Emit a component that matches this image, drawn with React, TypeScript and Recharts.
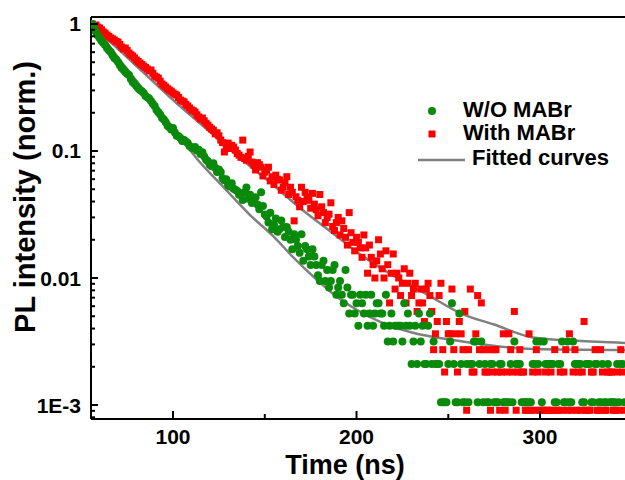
import React from "react";
import {
  ComposedChart,
  Scatter,
  Line,
  XAxis,
  YAxis,
  ReferenceLine,
  Legend,
} from "recharts";

// sampling times (ns), 1 ns bins
const times = [
  56, 57, 58, 59, 60, 61, 62, 63, 64, 65,
  66, 67, 68, 69, 70, 71, 72, 73, 74, 75,
  76, 77, 78, 79, 80, 81, 82, 83, 84, 85,
  86, 87, 88, 89, 90, 91, 92, 93, 94, 95,
  96, 97, 98, 99, 100, 101, 102, 103, 104, 105,
  106, 107, 108, 109, 110, 111, 112, 113, 114, 115,
  116, 117, 118, 119, 120, 121, 122, 123, 124, 125,
  126, 127, 128, 129, 130, 131, 132, 133, 134, 135,
  136, 137, 138, 139, 140, 141, 142, 143, 144, 145,
  146, 147, 148, 149, 150, 151, 152, 153, 154, 155,
  156, 157, 158, 159, 160, 161, 162, 163, 164, 165,
  166, 167, 168, 169, 170, 171, 172, 173, 174, 175,
  176, 177, 178, 179, 180, 181, 182, 183, 184, 185,
  186, 187, 188, 189, 190, 191, 192, 193, 194, 195,
  196, 197, 198, 199, 200, 201, 202, 203, 204, 205,
  206, 207, 208, 209, 210, 211, 212, 213, 214, 215,
  216, 217, 218, 219, 220, 221, 222, 223, 224, 225,
  226, 227, 228, 229, 230, 231, 232, 233, 234, 235,
  236, 237, 238, 239, 240, 241, 242, 243, 244, 245,
  246, 247, 248, 249, 250, 251, 252, 253, 254, 255,
  256, 257, 258, 259, 260, 261, 262, 263, 264, 265,
  266, 267, 268, 269, 270, 271, 272, 273, 274, 275,
  276, 277, 278, 279, 280, 281, 282, 283, 284, 285,
  286, 287, 288, 289, 290, 291, 292, 293, 294, 295,
  296, 297, 298, 299, 300, 301, 302, 303, 304, 305,
  306, 307, 308, 309, 310, 311, 312, 313, 314, 315,
  316, 317, 318, 319, 320, 321, 322, 323, 324, 325,
  326, 327, 328, 329, 330, 331, 332, 333, 334, 335,
  336, 337, 338, 339, 340, 341, 342, 343, 344, 345,
  346,
];

// photon counts, W/O MABr
const GREEN_PEAK = 950;
const greenCounts = [
  950, 880, 822, 770, 737, 700, 673, 650, 614, 590,
  572, 540, 513, 500, 477, 450, 428, 415, 398, 385,
  377, 350, 332, 322, 309, 296, 287, 280, 272, 258,
  252, 246, 235, 224, 215, 200, 192, 184, 173, 168,
  160, 150, 146, 140, 144, 133, 125, 124, 120, 114,
  116, 113, 110, 104, 101, 100, 102, 96, 97, 90,
  93, 86, 81, 79, 74, 72, 76, 70, 65, 68,
  65, 58, 56, 57, 51, 50, 53, 48, 47, 46,
  43, 44, 39, 45, 49, 40, 43, 37, 39, 41,
  36, 33, 45, 35, 30, 29, 26, 31, 23, 25,
  28, 22, 23, 27, 24, 20, 24, 22, 19, 16,
  21, 19, 17, 15, 21, 13, 17, 16, 14, 12,
  16, 14, 12, 10, 9, 12, 13, 9, 11, 8,
  9, 11, 12, 7, 8, 9, 7, 6, 11, 8,
  5, 7, 7, 5, 6, 4, 7, 6, 5, 7,
  4, 5, 7, 4, 5, 6, 6, 5, 5, 4,
  7, 3, 4, 5, 3, 4, 4, 4, 4, 3,
  6, 4, 5, 4, 2, 3, 4, 2, 5, 3,
  4, 2, 2, 4, 5, 2, 3, 2, 2, 2,
  1, 1, 1, 1, 2, 3, 6, 2, 1, 1,
  5, 2, 1, 1, 2, 1, 2, 2, 3, 3,
  1, 2, 3, 1, 2, 1, 1, 2, 2, 1,
  1, 1, 2, 2, 1, 1, 1, 1, 2, 1,
  3, 2, 2, 2, 1, 1, 1, 1, 1, 1,
  2, 2, 3, 2, 3, 1, 3, 2, 2, 2,
  2, 2, 1, 1, 2, 2, 3, 1, 1, 3,
  1, 1, 3, 2, 2, 2, 2, 1, 1, 2,
  2, 2, 1, 1, 2, 2, 1, 1, 2, 1,
  1, 2, 1, 1, 1, 1, 2, 1, 2, 2,
  1,
];

// photon counts, With MABr
const RED_PEAK = 1100;
const redCounts = [
  1100, 1060, 1080, 1040, 1023, 990, 952, 930, 901, 880,
  854, 840, 823, 800, 793, 760, 725, 700, 712, 680,
  650, 630, 616, 595, 573, 556, 542, 528, 513, 500,
  486, 470, 477, 450, 428, 420, 412, 390, 371, 362,
  351, 340, 332, 325, 315, 308, 303, 290, 277, 272,
  268, 256, 249, 240, 232, 228, 223, 212, 204, 196,
  200, 190, 182, 176, 169, 164, 160, 150, 153, 145,
  134, 128, 108, 120, 127, 115, 122, 118, 112, 105,
  102, 98, 134, 96, 93, 100, 108, 90, 85, 78,
  89, 86, 82, 70, 75, 78, 82, 64, 69, 60,
  71, 66, 65, 54, 57, 62, 69, 50, 57, 52,
  31, 48, 45, 40, 57, 44, 52, 48, 45, 39,
  51, 42, 38, 34, 50, 40, 36, 30, 33, 35,
  43, 28, 26, 30, 33, 24, 31, 27, 23, 20,
  36, 25, 21, 18, 23, 21, 19, 16, 24, 19,
  12, 20, 16, 14, 11, 15, 22, 17, 13, 11,
  18, 14, 7, 12, 17, 9, 12, 11, 8, 10,
  13, 7, 10, 12, 8, 9, 10, 6, 7, 9,
  7, 5, 9, 10, 8, 6, 3, 4, 5, 8,
  10, 3, 2, 5, 4, 4, 9, 3, 4, 2,
  5, 4, 3, 6, 1, 3, 9, 2, 2, 4,
  8, 3, 7, 3, 2, 2, 3, 1, 2, 3,
  3, 2, 1, 2, 4, 1, 2, 4, 3, 2,
  6, 1, 2, 3, 2, 2, 1, 1, 4, 1,
  2, 1, 3, 2, 1, 1, 1, 2, 1, 1,
  2, 1, 3, 1, 1, 2, 1, 2, 3, 1,
  4, 1, 2, 3, 1, 2, 1, 2, 5, 1,
  1, 1, 2, 2, 3, 1, 1, 3, 2, 1,
  1, 2, 2, 2, 1, 1, 2, 1, 3, 2,
  1,
];

// fitted curves
const greenFitT = [55.9, 63, 71.1, 80, 87.5, 100, 113.6, 128, 142, 155, 165.4, 178.5, 189.4, 200.3, 214.4, 229.2, 256.4, 296.2, 346.3];
const greenFitV = [1.0, 0.74, 0.52, 0.357, 0.261, 0.152, 0.0849, 0.051, 0.0313, 0.0211, 0.0146, 0.00964, 0.00708, 0.0056, 0.00442, 0.00376, 0.00319, 0.00276, 0.00271];
const redFitT = [55.9, 66, 76.6, 88, 100, 118, 136.5, 152, 169.2, 186, 201.9, 223.7, 240, 256.4, 275, 296.2, 320, 346.3];
const redFitV = [1.0, 0.721, 0.52, 0.365, 0.252, 0.15, 0.0881, 0.058, 0.0356, 0.0231, 0.0154, 0.0097, 0.0072, 0.0053, 0.0043, 0.0034, 0.0032, 0.00308];

// axis ticks
const xTicks = [100, 150, 200, 250, 300];
const xMajor = [100, 200, 300];
const yTicks = [
  0.0008, 0.0009, 0.001, 0.002, 0.003, 0.004, 0.005, 0.006, 0.007, 0.008, 0.009,
  0.01, 0.02, 0.03, 0.04, 0.05, 0.06, 0.07, 0.08, 0.09,
  0.1, 0.2, 0.3, 0.4, 0.5, 0.6, 0.7, 0.8, 0.9, 1,
];
const yMajor = [0.001, 0.01, 0.1, 1];
const yMajorLabels = ["1E-3", "0.01", "0.1", "1"];

const X_DOMAIN = [55.3, 346.3];
const Y_DOMAIN = [0.000776, 1.135];

const FONT = 'Arial, "Liberation Sans", sans-serif';
const GREEN = "#0a8a0a";
const RED = "#ff0000";
const GRAY = "#808080";

const greenData = times.map((t, i) => ({ t, v: greenCounts[i] / GREEN_PEAK }));
const redData = times.map((t, i) => ({ t, v: redCounts[i] / RED_PEAK }));
const greenFit = greenFitT.map((t, i) => ({ t, v: greenFitV[i] }));
const redFit = redFitT.map((t, i) => ({ t, v: redFitV[i] }));

const YTick = (props: any) => {
  const { x, y, payload } = props;
  const idx = yMajor.indexOf(payload.value);
  const major = idx >= 0;
  return (
    <g>
      <line x1={x} x2={x + (major ? 7 : 4)} y1={y} y2={y} stroke="#000" strokeWidth={2} />
      {major && (
        <text x={x - 10} y={y + 7.5} textAnchor="end" fontSize={21} fontWeight="bold" fontFamily={FONT} fill="#000">
          {yMajorLabels[idx]}
        </text>
      )}
    </g>
  );
};

const XTick = (props: any) => {
  const { x, y, payload } = props;
  const major = xMajor.includes(payload.value);
  return (
    <g>
      <line x1={x} x2={x} y1={y} y2={y - (major ? 8 : 5)} stroke="#000" strokeWidth={2} />
      {major && (
        <text x={x} y={y + 25} textAnchor="middle" fontSize={21} fontWeight="bold" fontFamily={FONT} fill="#000">
          {payload.value}
        </text>
      )}
    </g>
  );
};

const renderLegend = () => (
  <svg width={215} height={80}>
    <circle cx={22} cy={16} r={4} fill={GREEN} />
    <rect x={18.5} y={35.5} width={7} height={7} fill={RED} />
    <line x1={8} x2={55} y1={65} y2={65} stroke={GRAY} strokeWidth={2.5} />
    <g fontFamily={FONT} fontWeight="bold" fontSize={22} fill="#000">
      <text x={53} y={22}>W/O MABr</text>
      <text x={53} y={45}>With MABr</text>
      <text x={62} y={70}>Fitted curves</text>
    </g>
  </svg>
);

export default function App() {
  return (
    <div style={{ position: "absolute", left: 0, top: 0, width: 625, height: 480, background: "#fff" }}>
      <ComposedChart width={625} height={480} margin={{ top: 17, right: 0, bottom: 31, left: 0 }}>
        <XAxis
          dataKey="t"
          type="number"
          domain={X_DOMAIN}
          allowDataOverflow
          ticks={xTicks}
          interval={0}
          tickSize={0}
          tickMargin={0}
          tick={<XTick />}
          tickLine={false}
          height={30}
          axisLine={{ stroke: "#000", strokeWidth: 2 }}
          label={{
            content: () => (
              <text x={345} y={474} textAnchor="middle" fontSize={27} fontWeight="bold" fontFamily={FONT} fill="#000">
                Time (ns)
              </text>
            ),
          }}
        />
        <YAxis
          dataKey="v"
          type="number"
          scale="log"
          domain={Y_DOMAIN}
          allowDataOverflow
          ticks={yTicks}
          interval={0}
          tickSize={0}
          tickMargin={0}
          tick={<YTick />}
          tickLine={false}
          width={91}
          axisLine={{ stroke: "#000", strokeWidth: 2 }}
          label={{
            content: () => (
              <text
                x={25}
                y={197}
                transform="rotate(-90 25 197)"
                textAnchor="middle"
                dominantBaseline="central"
                fontSize={29}
                fontWeight="bold"
                fontFamily={FONT}
                fill="#000"
              >
                PL intensity (norm.)
              </text>
            ),
          }}
        />
        <ReferenceLine y={Y_DOMAIN[1]} stroke="#000" strokeWidth={2} />
        <ReferenceLine y={Y_DOMAIN[0]} stroke="#000" strokeWidth={2} />
        <ReferenceLine x={X_DOMAIN[0]} stroke="#000" strokeWidth={2} />
        <Scatter
          data={redData}
          dataKey="v"
          isAnimationActive={false}
          shape={(p: any) => <rect x={p.cx - 3.5} y={p.cy - 3.5} width={7} height={7} fill={RED} />}
        />
        <Scatter
          data={greenData}
          dataKey="v"
          isAnimationActive={false}
          shape={(p: any) => <circle cx={p.cx} cy={p.cy} r={4} fill={GREEN} />}
        />
        <Line data={greenFit} dataKey="v" type="monotone" dot={false} stroke={GRAY} strokeWidth={2.5} isAnimationActive={false} />
        <Line data={redFit} dataKey="v" type="monotone" dot={false} stroke={GRAY} strokeWidth={2.5} isAnimationActive={false} />
        <Legend
          content={renderLegend}
          layout="horizontal"
          verticalAlign="middle"
          align="center"
          wrapperStyle={{ position: "absolute", left: 410, top: 95, width: 215, height: 80 }}
        />
      </ComposedChart>
    </div>
  );
}
